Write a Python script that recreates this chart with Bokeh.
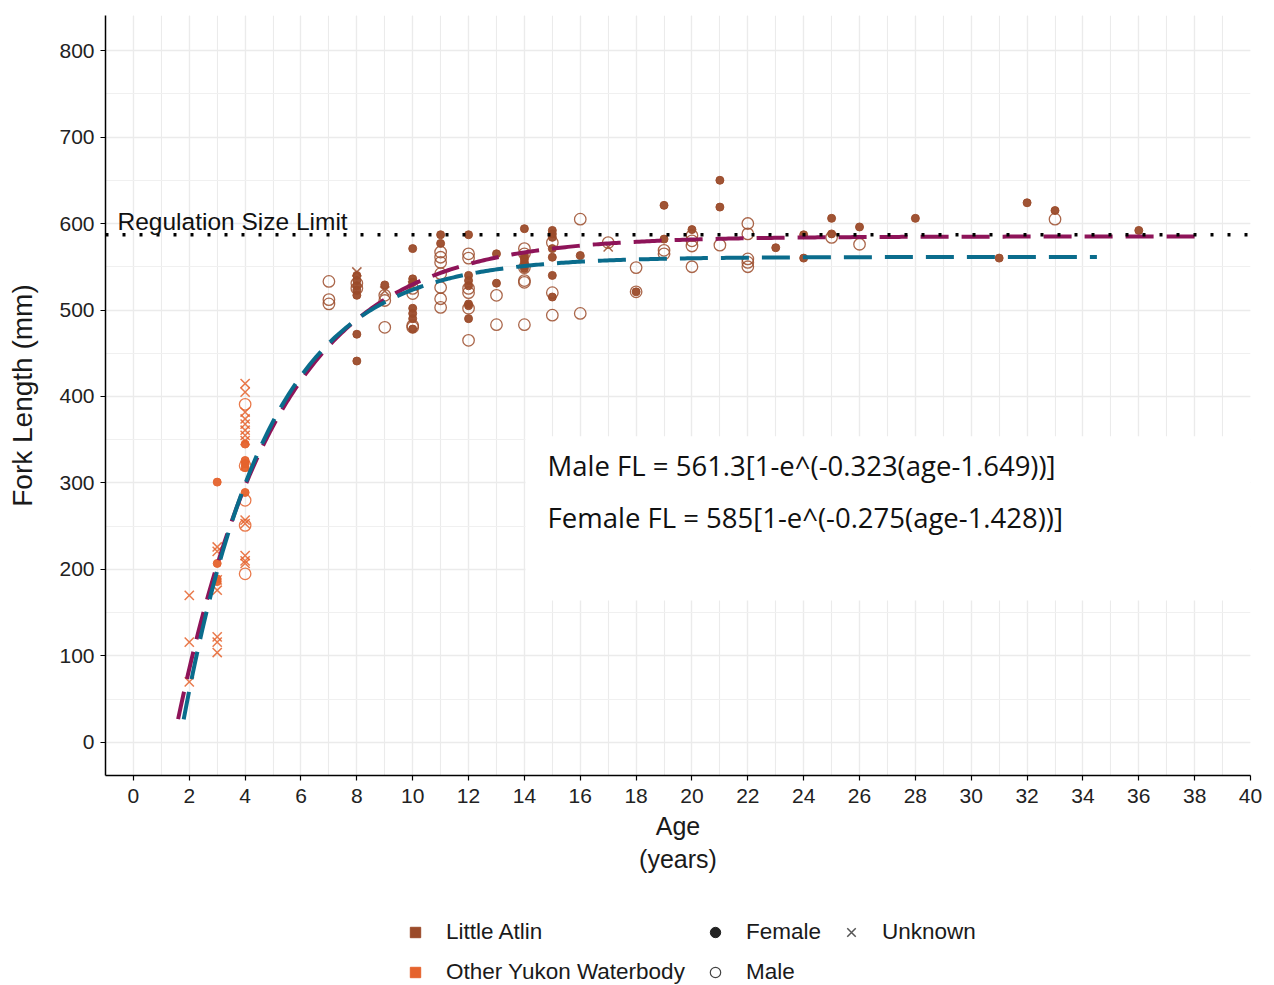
import numpy as np
from bokeh.plotting import figure
from bokeh.layouts import column
from bokeh.models import (Range1d, FixedTicker, Span, Label, BoxAnnotation,
                          Legend, LegendItem)
from bokeh.embed import file_html
from bokeh.resources import INLINE

# ---------------- data ----------------
# Little Atlin - Female (filled)
la_f_age = [8, 8, 8, 8, 8, 8, 8, 9, 10, 10, 10, 10, 10, 10, 10, 11, 11,
            12, 12, 12, 12, 12, 12, 12, 13, 13, 14, 14, 14, 14, 14, 14,
            15, 15, 15, 15, 15, 15, 15, 16, 18, 19, 19, 20, 21, 21, 23,
            24, 24, 25, 25, 26, 28, 31, 32, 33, 36]
la_f_fl = [540, 534, 528, 523, 517, 472, 441, 529, 571, 536, 532, 502, 496,
           490, 478, 587, 577, 587, 540, 534, 528, 507, 505, 490, 565, 531,
           594, 563, 559, 555, 551, 548, 592, 588, 584, 571, 561, 540, 515,
           563, 521, 621, 582, 593, 650, 619, 572, 587, 560, 606, 588, 596,
           606, 560, 624, 615, 592]
# Little Atlin - Male (open)
la_m_age = [7, 7, 7, 8, 8, 9, 9, 9, 10, 10, 10, 10, 11, 11, 11, 11, 11, 11,
            11, 12, 12, 12, 12, 12, 12, 13, 13, 14, 14, 14, 14, 14, 14, 15,
            15, 15, 16, 16, 17, 18, 18, 19, 19, 20, 20, 20, 20, 21, 22, 22,
            22, 22, 22, 25, 26, 33]
la_m_fl = [533, 512, 507, 531, 525, 517, 511, 480, 525, 519, 482, 480, 567,
           561, 555, 542, 526, 513, 503, 565, 560, 525, 520, 502, 465, 517,
           483, 571, 565, 549, 534, 532, 483, 578, 520, 494, 605, 496, 578,
           549, 521, 569, 565, 586, 580, 574, 550, 575, 600, 588, 559, 555,
           550, 584, 576, 605]
# Little Atlin - Unknown (x)
la_u_age = [8, 9, 10, 17]
la_u_fl = [544, 522, 528, 573]

# Other Yukon Waterbody
oy_f_age = [3, 3, 3, 3, 4, 4, 4, 4, 4]
oy_f_fl = [301, 207, 189, 186, 345, 326, 322, 318, 289]
oy_m_age = [4, 4, 4, 4, 4]
oy_m_fl = [391, 320, 280, 251, 195]
oy_u_age = [2, 2, 2, 3, 3, 3, 3, 3, 3, 3,
            4, 4, 4, 4, 4, 4, 4, 4, 4, 4, 4, 4, 4, 4]
oy_u_fl = [170, 116, 70, 226, 221, 188, 176, 122, 116, 104,
           415, 405, 382, 374, 368, 361, 355, 349, 320, 257, 253, 216, 210, 207]

# von Bertalanffy fits (parameters printed on the chart)
male_linf, male_k, male_t0 = 561.3, 0.323, 1.649
female_linf, female_k, female_t0 = 585.0, 0.275, 1.428
male_age_span = (1.8, 34.5)
female_age_span = (1.6, 38.0)
size_limit = 587

x_ticks = list(range(0, 41, 2))
y_ticks = list(range(0, 801, 100))

# ---------------- styling ----------------
C_LA = "#9B4B2A"
C_OY = "#E5632D"
C_MALE = "#0A6C8C"
C_FEMALE = "#8E1459"
FONT = "Liberation Sans"

p = figure(width=1274, height=890,
           x_range=Range1d(-1.0, 40.0), y_range=Range1d(-38.2, 840.5),
           output_backend="svg", toolbar_location=None,
           min_border_left=105, min_border_right=24,
           min_border_top=15, min_border_bottom=115,
           background_fill_color="white", border_fill_color="white",
           outline_line_color=None)

p.xaxis.ticker = FixedTicker(ticks=x_ticks, minor_ticks=list(range(-1, 41)))
p.yaxis.ticker = FixedTicker(ticks=y_ticks, minor_ticks=list(range(-50, 851, 50)))

for ax in (p.xaxis[0], p.yaxis[0]):
    ax.axis_line_color = "black"
    ax.axis_line_width = 1.5
    ax.major_tick_line_color = "black"
    ax.major_tick_line_width = 1.2
    ax.major_tick_out = 5
    ax.major_tick_in = 0
    ax.minor_tick_line_color = None
    ax.major_label_text_font = FONT
    ax.major_label_text_font_size = "21px"
    ax.major_label_text_color = "#222222"
    ax.axis_label_text_font = FONT
    ax.axis_label_text_font_style = "normal"
    ax.axis_label_text_color = "#1a1a1a"

p.xaxis.axis_label = "Age\n(years)"
p.xaxis.axis_label_text_font_size = "25px"
p.xaxis.major_label_standoff = 8
p.xaxis.axis_label_standoff = 6
p.yaxis.axis_label = "Fork Length (mm)"
p.yaxis.axis_label_text_font_size = "28px"
p.yaxis.major_label_standoff = 6
p.yaxis.axis_label_standoff = 18

p.xgrid.grid_line_color = "#EBEBEB"
p.xgrid.grid_line_width = 1.3
p.xgrid.minor_grid_line_color = "#EBEBEB"
p.xgrid.minor_grid_line_width = 1.1
p.ygrid.grid_line_color = "#EBEBEB"
p.ygrid.grid_line_width = 1.3
p.ygrid.minor_grid_line_color = "#F0F0F0"
p.ygrid.minor_grid_line_width = 1.0

# white background box behind the equations
p.add_layout(BoxAnnotation(left=14.04, right=41, bottom=164, top=354,
                           fill_color="white", fill_alpha=1.0,
                           line_color=None, level="underlay"))

# ---------------- points ----------------
groups = [
    (la_f_age, la_f_fl, C_LA, "circle", True),
    (la_m_age, la_m_fl, C_LA, "circle", False),
    (la_u_age, la_u_fl, C_LA, "x", False),
    (oy_f_age, oy_f_fl, C_OY, "circle", True),
    (oy_m_age, oy_m_fl, C_OY, "circle", False),
    (oy_u_age, oy_u_fl, C_OY, "x", False),
]
for ages, fls, col, mk, filled in groups:
    if mk == "x":
        p.scatter(ages, fls, marker="x", size=13, line_color=col,
                  line_width=1.5, line_alpha=0.85)
    elif filled:
        p.scatter(ages, fls, marker="circle", size=8, fill_color=col,
                  line_color=col, fill_alpha=0.95, line_alpha=0.95)
    else:
        p.scatter(ages, fls, marker="circle", size=11.5, fill_color=None,
                  line_color=col, line_width=1.3, line_alpha=0.85)

# ---------------- growth curves ----------------
fa = np.linspace(female_age_span[0], female_age_span[1], 400)
ff = female_linf * (1 - np.exp(-female_k * (fa - female_t0)))
ma = np.linspace(male_age_span[0], male_age_span[1], 400)
mf = male_linf * (1 - np.exp(-male_k * (ma - male_t0)))
p.line(fa, ff, line_color=C_FEMALE, line_width=4, line_dash="28 13")
p.line(ma, mf, line_color=C_MALE, line_width=4, line_dash="28 13")

# regulation size limit
p.add_layout(Span(location=size_limit, dimension="width", line_color="black",
                  line_width=3.5, line_dash="3 14"))
p.add_layout(Label(x=-0.57, y=602, text="Regulation Size Limit",
                   text_font=FONT, text_font_size="24.5px",
                   text_color="#111111", text_baseline="middle"))

# equations
p.add_layout(Label(x=14.83, y=320,
                   text="Male FL = 561.3[1-e^(-0.323(age-1.649))]",
                   text_font="Open Sans", text_font_size="27.5px",
                   text_color="#111111", text_baseline="middle"))
p.add_layout(Label(x=14.83, y=260,
                   text="Female FL = 585[1-e^(-0.275(age-1.428))]",
                   text_font="Open Sans", text_font_size="27.5px",
                   text_color="#111111", text_baseline="middle"))

# ---------------- legend panel ----------------
lg = figure(width=1274, height=95, x_range=Range1d(0, 1), y_range=Range1d(0, 1),
            output_backend="svg", toolbar_location=None,
            min_border_left=0, min_border_right=0, min_border_top=0,
            min_border_bottom=0, outline_line_color=None,
            background_fill_color="white", border_fill_color="white")
lg.axis.visible = False
lg.grid.visible = False

# legend proxies (one point each, placed outside the visible range)
proxy_x, proxy_y = [-5], [-5]
r_la = lg.scatter(proxy_x, proxy_y, marker="square", fill_color=C_LA, line_color=C_LA)
r_oy = lg.scatter(proxy_x, proxy_y, marker="square", fill_color=C_OY, line_color=C_OY)
r_fe = lg.scatter(proxy_x, proxy_y, marker="circle", fill_color="#222222", line_color="#222222")
r_ma = lg.scatter(proxy_x, proxy_y, marker="circle", fill_color=None, line_color="#444444", line_width=1.2)
r_un = lg.scatter(proxy_x, proxy_y, marker="x", line_color="#555555", line_width=1.5)


def make_legend(items, loc, g=26, standoff=18):
    leg = Legend(items=items, location=loc, orientation="vertical",
                 glyph_width=g, glyph_height=g, label_height=g,
                 spacing=40 - g, padding=0, margin=0, label_standoff=standoff,
                 label_text_font=FONT, label_text_font_size="22.5px",
                 label_text_color="#1a1a1a", background_fill_alpha=0,
                 border_line_color=None)
    lg.add_layout(leg, "center")


make_legend([LegendItem(label="Little Atlin", renderers=[r_la]),
             LegendItem(label="Other Yukon Waterbody", renderers=[r_oy])],
            (297, 0))
make_legend([LegendItem(label="Female", renderers=[r_fe]),
             LegendItem(label="Male", renderers=[r_ma])],
            (597, 0))
make_legend([LegendItem(label="Unknown", renderers=[r_un])],
            (731, 38), g=30, standoff=16)

open("out.html", "w").write(file_html(column(p, lg, spacing=0), INLINE))
